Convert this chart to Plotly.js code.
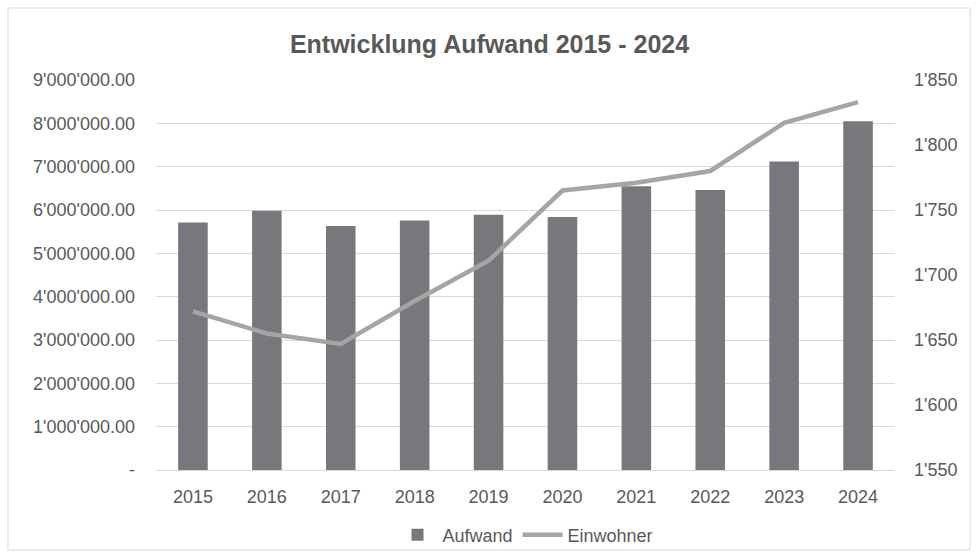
<!DOCTYPE html>
<html>
<head>
<meta charset="utf-8">
<script src="https://cdn.plot.ly/plotly-3.0.1.min.js"></script>
<style>
html,body{margin:0;padding:0;background:#fff;}
#chart{width:979px;height:559px;}
</style>
</head>
<body>
<div id="chart"></div>
<script>
const years = ['2015','2016','2017','2018','2019','2020','2021','2022','2023','2024'];
const aufwand = [5710000, 5980000, 5630000, 5760000, 5890000, 5840000, 6550000, 6460000, 7120000, 8050000];
const einwohner = [1672, 1655, 1647, 1680, 1711, 1765, 1771, 1780, 1817, 1833];
const leftTickVals = [0,1000000,2000000,3000000,4000000,5000000,6000000,7000000,8000000,9000000];
const leftTickText = ['-',"1'000'000.00","2'000'000.00","3'000'000.00","4'000'000.00","5'000'000.00","6'000'000.00","7'000'000.00","8'000'000.00","9'000'000.00"];
const rightTickVals = [1550,1600,1650,1700,1750,1800,1850];
const rightTickText = ["1'550","1'600","1'650","1'700","1'750","1'800","1'850"];

const txt = '#595959';
const data = [
  {type:'bar', name:'Aufwand', x:years, y:aufwand, marker:{color:'#77787C'}, yaxis:'y'},
  {type:'scatter', mode:'lines', name:'Einwohner', x:years, y:einwohner, yaxis:'y2',
   line:{color:'#A5A5A5', width:4.5}}
];
const L=156, R=895, T=80, B=470, W=979, H=559;
const pw=R-L, ph=B-T;
const layout = {
  width:W, height:H,
  margin:{l:L, r:W-R, t:T, b:H-B, pad:0, autoexpand:false},
  paper_bgcolor:'#fff', plot_bgcolor:'#fff',
  font:{family:'Liberation Sans, Arial, sans-serif', size:18, color:txt},
  title:{text:'<b>Entwicklung Aufwand 2015 - 2024</b>', x:0.5, xanchor:'center', y:1-44/H, yanchor:'middle',
         font:{size:25, color:txt, family:'Liberation Sans, Arial, sans-serif'}},
  bargap:0.6,
  showlegend:true,
  legend:{orientation:'h', x:0.5, xanchor:'center', yref:'container', y:1-535/H, yanchor:'middle',
          bgcolor:'rgba(0,0,0,0)', font:{size:18, color:txt}, traceorder:'normal', itemwidth:40},
  xaxis:{type:'category', showgrid:false, zeroline:false, showline:true, linecolor:'#D9D9D9', linewidth:1,
         ticks:'', tickfont:{size:18, color:txt}, ticklabelstandoff:10, automargin:false},
  yaxis:{range:[0,9000000], tickvals:leftTickVals, ticktext:leftTickText, showgrid:true, gridcolor:'#D9D9D9',
         gridwidth:1, zeroline:false, showline:false, ticks:'', tickfont:{size:18, color:txt}, ticklabelstandoff:20, automargin:false},
  yaxis2:{range:[1550,1850], overlaying:'y', side:'right', tickvals:rightTickVals, ticktext:rightTickText,
          showgrid:false, zeroline:false, showline:false, ticks:'', tickfont:{size:18, color:txt}, ticklabelstandoff:18, automargin:false},
  shapes:[{type:'rect', xref:'paper', yref:'paper', x0:(8-L)/pw, x1:(970-L)/pw, y0:-(550-B)/ph, y1:(B-8)/ph,
           line:{color:'#D9D9D9', width:1}, fillcolor:'rgba(0,0,0,0)', layer:'below'}]
};
Plotly.newPlot('chart', data, layout, {displayModeBar:false, staticPlot:true});
</script>
</body>
</html>
